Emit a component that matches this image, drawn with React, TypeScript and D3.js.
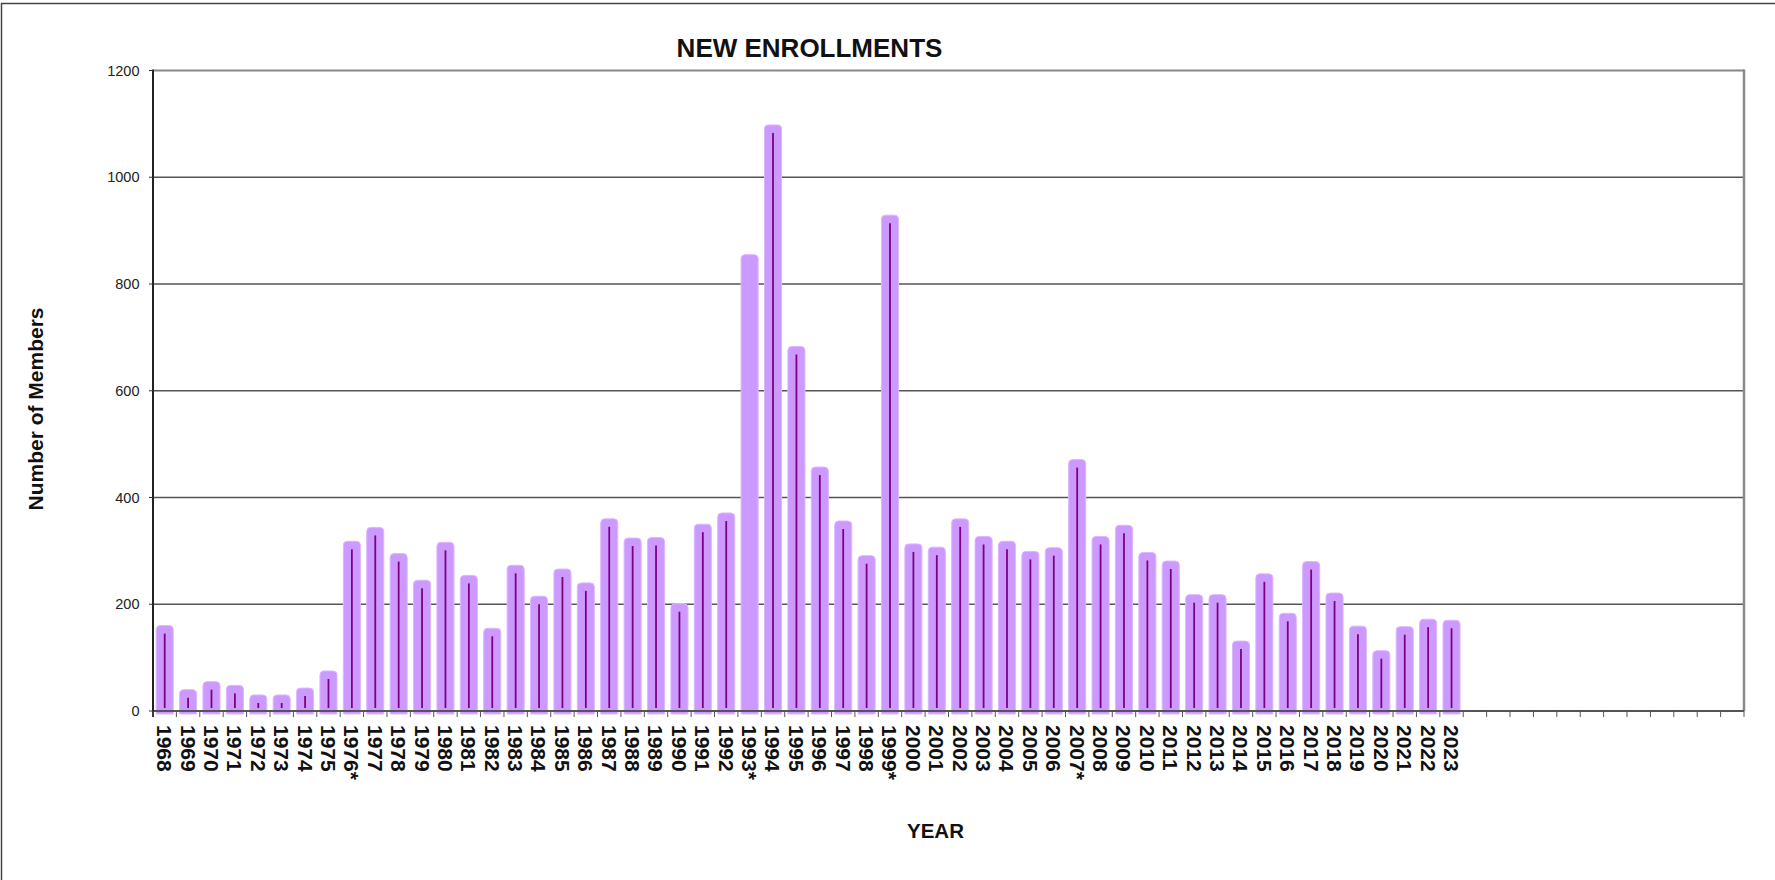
import React from "react";
import * as d3 from "d3";

const categories: string[] = [
  "1968","1969","1970","1971","1972","1973","1974","1975","1976*","1977",
  "1978","1979","1980","1981","1982","1983","1984","1985","1986","1987",
  "1988","1989","1990","1991","1992","1993*","1994","1995","1996","1997",
  "1998","1999*","2000","2001","2002","2003","2004","2005","2006","2007*",
  "2008","2009","2010","2011","2012","2013","2014","2015","2016","2017",
  "2018","2019","2020","2021","2022","2023",
];
const values: number[] = [
  160, 40, 55, 48, 30, 30, 43, 75, 318, 344,
  295, 245, 316, 254, 155, 273, 215, 266, 240, 360,
  324, 325, 201, 350, 371, 855, 1098, 683, 457, 356,
  291, 929, 313, 307, 360, 327, 318, 299, 306, 471,
  327, 348, 297, 281, 218, 218, 131, 257, 183, 280,
  221, 159, 113, 158, 172, 170,
];
// categories without a center stroke
const noStroke: string[] = ["1993*"];
const totalSlots = 68;
const yTicks: number[] = [0, 200, 400, 600, 800, 1000, 1200];

const W = 1775;
const H = 880;
const left = 153;
const right = 1744;
const top = 70.5;
const bottom = 711;

export default function App() {
  const x = d3
    .scaleBand<number>()
    .domain(d3.range(totalSlots))
    .range([left, right])
    .paddingInner(0.27)
    .paddingOuter(0.135);
  const y = d3.scaleLinear().domain([0, 1200]).range([bottom, top]);
  const bw = x.bandwidth();
  const r = 4;
  const barBottom = bottom + 3;
  const font = "Arial, 'Liberation Sans', Helvetica, sans-serif";

  const barPath = (i: number, v: number) => {
    const x0 = x(i)!;
    const x1 = x0 + bw;
    const yt = y(v);
    return `M${x0},${barBottom} L${x0},${yt + r} Q${x0},${yt} ${x0 + r},${yt} L${x1 - r},${yt} Q${x1},${yt} ${x1},${yt + r} L${x1},${barBottom} Z`;
  };

  return (
    <svg
      width={W}
      height={H}
      style={{ position: "absolute", left: 0, top: 0, background: "#fff" }}
      fontFamily={font}
    >
      <rect x={1.5} y={3.5} width={W + 20} height={H + 20} fill="#fff" stroke="#444" strokeWidth={1.5} />

      {/* gridlines */}
      {yTicks.filter((t) => t > 0 && t < 1200).map((t) => (
        <line key={t} x1={left} x2={right} y1={y(t)} y2={y(t)} stroke="#555" strokeWidth={1.5} />
      ))}
      <line x1={left} x2={right} y1={y(1200)} y2={y(1200)} stroke="#888" strokeWidth={2} />
      <line x1={right} x2={right} y1={y(1200) - 1} y2={bottom} stroke="#888" strokeWidth={2.5} />

      {/* bars */}
      {values.map((v, i) => (
        <g key={categories[i]}>
          <path d={barPath(i, v)} fill="#cc99ff" stroke="#dcb8ff" strokeWidth={1} />
          {!noStroke.includes(categories[i]) && (
            <line
              x1={x(i)! + bw / 2}
              x2={x(i)! + bw / 2}
              y1={Math.min(y(v) + 8, bottom - 4)}
              y2={bottom - 3}
              stroke="#800080"
              strokeWidth={1.8}
            />
          )}
        </g>
      ))}

      {/* axes */}
      <line x1={left} x2={right} y1={bottom} y2={bottom} stroke="#555" strokeWidth={2} />
      <line x1={left} x2={left} y1={top - 1} y2={bottom + 6} stroke="#222" strokeWidth={2} />
      {d3.range(totalSlots + 1).map((k) => {
        const xx = k < totalSlots ? x(k)! - x.step() * x.paddingInner() / 2 : right;
        return <line key={k} x1={xx} x2={xx} y1={bottom} y2={bottom + 6} stroke="#555" strokeWidth={1} />;
      })}
      {yTicks.map((t) => (
        <g key={t}>
          <line x1={left - 4} x2={left} y1={y(t)} y2={y(t)} stroke="#333" strokeWidth={1} />
          <text x={139.5} y={y(t)} dy="0.35em" textAnchor="end" fontSize={14.5} fill="#222">
            {t}
          </text>
        </g>
      ))}

      {/* x labels */}
      {categories.map((c, i) => (
        <text
          key={c}
          transform={`translate(${x(i)! + bw / 2},725) rotate(90)`}
          dy="0.36em"
          fontSize={21}
          fontWeight="bold"
          fill="#111"
        >
          {c}
        </text>
      ))}

      {/* titles */}
      <text x={809.5} y={56.5} textAnchor="middle" fontSize={26} fontWeight="bold" fill="#111">
        NEW ENROLLMENTS
      </text>
      <text x={935.5} y={838} textAnchor="middle" fontSize={20.5} fontWeight="bold" fill="#111">
        YEAR
      </text>
      <text
        transform={`translate(42.5,409) rotate(-90)`}
        textAnchor="middle"
        fontSize={21}
        fontWeight="bold"
        fill="#111"
      >
        Number of Members
      </text>
    </svg>
  );
}
